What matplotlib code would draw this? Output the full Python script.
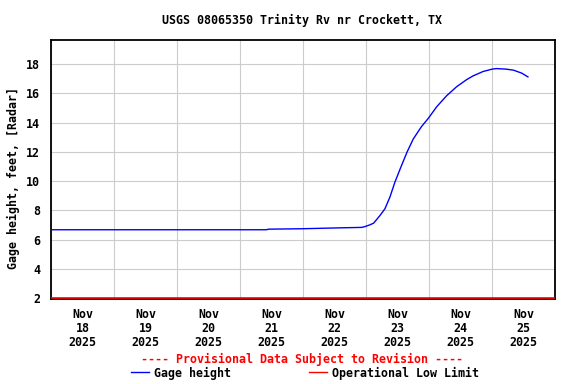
import pandas as pd
import numpy as np
import matplotlib
matplotlib.use("Agg")
import matplotlib.pyplot as plt
import matplotlib.dates as mdates
from matplotlib.lines import Line2D

# hours after 2025-11-18 00:00 and gage height (ft)
stunden = [0, 20, 40, 60, 82, 83, 96, 110, 118.3, 119.5, 121.4, 122.9,
           125.3, 127.2, 129.1, 131.0, 133.0, 135.6, 138.0, 141.1, 143.8,
           146.9, 150.7, 154.6, 158.4, 160.8, 164.6, 168.0, 169.7, 173.5,
           176.2, 179.3, 181.7]
hoehe = [6.67, 6.67, 6.67, 6.67, 6.67, 6.71, 6.74, 6.80, 6.83, 6.88, 7.00, 7.12,
         7.64, 8.10, 8.90, 9.92, 10.83, 11.97, 12.88, 13.72, 14.31,
         15.08, 15.84, 16.47, 16.95, 17.20, 17.50, 17.66, 17.70, 17.66,
         17.59, 17.39, 17.13]
tage = ["18", "19", "20", "21", "22", "23", "24", "25"]
low_limit = 2.0

start = pd.Timestamp("2025-11-18")
zeiten = start + pd.to_timedelta(stunden, unit="h")

mono = "DejaVu Sans Mono"
fs = 8.4

fig = plt.figure(figsize=(5.76, 3.84), dpi=100)
ax = fig.add_axes([51 / 576, 1 - 299.3 / 384, 504 / 576, 259.8 / 384])

ax.plot(zeiten, hoehe, color="#0000ff", lw=1.0, zorder=3)
ax.axhline(low_limit, color="#ff0000", lw=1.2, zorder=3)

ax.set_xlim(start, start + pd.Timedelta(days=8))
ax.set_ylim(1.91, 19.69)

ax.xaxis.set_major_locator(mdates.DayLocator())
ax.xaxis.set_major_formatter(plt.NullFormatter())
noon = [start + pd.Timedelta(days=i, hours=12) for i in range(8)]
ax.set_xticks([mdates.date2num(t) for t in noon], minor=True)
ax.set_xticklabels(["Nov\n" + d + "\n2025" for d in tage], minor=True,
                   fontfamily=mono, fontweight="bold", fontsize=fs, linespacing=1.1)
ax.set_yticks(range(2, 19, 2))
ax.set_yticklabels([str(v) for v in range(2, 19, 2)], fontfamily=mono,
                   fontweight="bold", fontsize=fs)
ax.tick_params(axis="both", which="both", length=0)
ax.tick_params(axis="x", which="minor", pad=6)
ax.tick_params(axis="y", pad=8)

ax.grid(True, which="major", color="#cccccc", lw=0.8)
ax.set_axisbelow(True)
for s in ax.spines.values():
    s.set_linewidth(1.3)
    s.set_color("black")

fig.text(302 / 576, 1 - 20 / 384, "USGS 08065350 Trinity Rv nr Crockett, TX",
         ha="center", va="center", fontfamily=mono, fontweight="bold", fontsize=fs)
fig.text(13.3 / 576, 1 - 178 / 384, "Gage height, feet, [Radar]", rotation=90,
         ha="center", va="center", fontfamily=mono, fontweight="bold", fontsize=fs)
fig.text(302 / 576, 1 - 359 / 384, "---- Provisional Data Subject to Revision ----",
         ha="center", va="center", color="#ff0000", fontfamily=mono,
         fontweight="bold", fontsize=fs)

griffe = [Line2D([], [], color="#0000ff", lw=1.0),
          Line2D([], [], color="#ff0000", lw=1.0)]
fig.legend(griffe, ["Gage height", "Operational Low Limit"], loc="center",
           bbox_to_anchor=(305 / 576, 1 - 373 / 384), ncol=2, frameon=False,
           borderpad=0, handlelength=1.5, handletextpad=0.45, columnspacing=6.7,
           prop={"family": mono, "weight": "bold", "size": fs})

fig.savefig("out.png", dpi=100)
